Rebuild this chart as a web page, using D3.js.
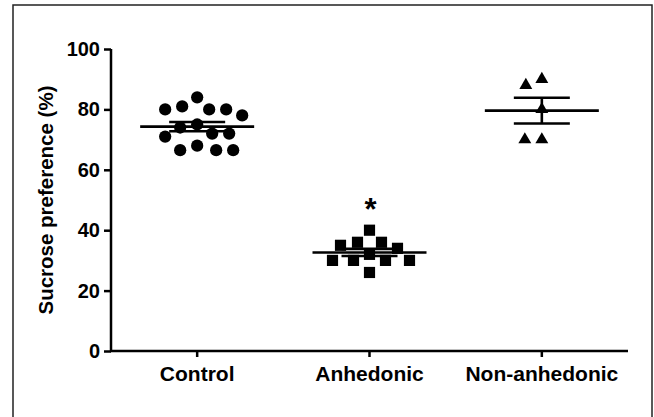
<!DOCTYPE html>
<html>
<head>
<meta charset="utf-8">
<script src="https://cdn.jsdelivr.net/npm/d3@7"></script>
<style>
  html, body { margin: 0; padding: 0; background: #fff; }
  #plot { width: 654px; height: 417px; }
  text { font-family: "Liberation Sans", Arial, sans-serif; font-weight: bold; }
</style>
</head>
<body>
<div id="plot"></div>
<script>
// Sucrose preference scatter (mean ± SEM) per group
const groups = ['Control', 'Anhedonic', 'Non-anhedonic'];
const controlValues = [84, 81, 80, 80, 80, 78, 75, 74, 72, 72, 71, 68, 66.5, 66.5, 66.5];
const anhedonicValues = [40, 36, 36, 35, 34, 32, 30, 30, 30, 30, 26];
const nonAnhedonicValues = [90, 88, 80, 70, 70];
const yTicks = [0, 20, 40, 60, 80, 100];
const yLabel = 'Sucrose preference (%)';
const significant = ['Anhedonic'];

function createD3Visualization() {
  const W = 654, H = 417;
  const margin = { top: 49, right: 26, bottom: 66, left: 111 };

  const svg = d3.select('#plot').append('svg').attr('width', W).attr('height', H);

  // outer frame of the figure
  svg.append('rect').attr('x', 13).attr('y', 5).attr('width', 639).attr('height', 440)
    .attr('fill', 'none').attr('stroke', '#222').attr('stroke-width', 1.5);

  const x = d3.scaleBand().domain(groups).range([margin.left, W - margin.right]).padding(0);
  const y = d3.scaleLinear().domain([0, 100]).range([H - margin.bottom, margin.top]);

  const seriesByGroup = {
    'Control': { values: controlValues, shape: 'circle' },
    'Anhedonic': { values: anhedonicValues, shape: 'square' },
    'Non-anhedonic': { values: nonAnhedonicValues, shape: 'triangle' },
  };

  // simple greedy beeswarm so overlapping points spread sideways
  const minDist = 17;
  function swarm(values) {
    const placed = [];
    values.forEach((v) => {
      const py = y(v);
      let off = 0;
      for (let k = 0; k < 200; k++) {
        const cand = k === 0 ? 0 : (k % 2 ? -Math.ceil(k / 2) : Math.ceil(k / 2));
        const ok = placed.every((p) => Math.hypot(p.dx - cand, p.py - py) >= minDist);
        if (ok) { off = cand; break; }
      }
      placed.push({ v, py, dx: off });
    });
    return placed;
  }

  const g = svg.append('g');

  groups.forEach((name) => {
    const s = seriesByGroup[name];
    const cx = x(name) + x.bandwidth() / 2;
    const pts = swarm(s.values);
    const sym = s.shape === 'circle' ? d3.symbolCircle : s.shape === 'square' ? d3.symbolSquare : d3.symbolTriangle;
    const size = s.shape === 'circle' ? 118 : s.shape === 'square' ? 125 : 72;
    g.selectAll(null).data(pts).enter().append('path')
      .attr('d', d3.symbol().type(sym).size(size))
      .attr('transform', (d) => `translate(${cx + d.dx},${d.py})`)
      .attr('fill', '#000');

    const mean = d3.mean(s.values);
    const sem = d3.deviation(s.values) / Math.sqrt(s.values.length);
    const line = (x1, x2, y1, y2) => g.append('line').attr('x1', x1).attr('x2', x2).attr('y1', y1).attr('y2', y2)
      .attr('stroke', '#000').attr('stroke-width', 2.6);
    line(cx - 57, cx + 57, y(mean), y(mean));
    line(cx - 28, cx + 28, y(mean + sem), y(mean + sem));
    line(cx - 28, cx + 28, y(mean - sem), y(mean - sem));
    line(cx, cx, y(mean + sem), y(mean - sem));

    if (significant.includes(name)) {
      g.append('text').attr('x', cx + 1).attr('y', y(d3.max(s.values)) - 10)
        .attr('text-anchor', 'middle').style('font-size', '31px').text('*');
    }
  });

  // axes
  const yAxis = svg.append('g').attr('transform', `translate(${margin.left},0)`)
    .call(d3.axisLeft(y).tickValues(yTicks).tickSize(7).tickPadding(4).tickFormat(d3.format('d')));
  yAxis.select('.domain').attr('d', `M0,${y(100)}V${y(0)}`);
  const xAxis = svg.append('g').attr('transform', `translate(0,${y(0)})`)
    .call(d3.axisBottom(x).tickSize(6).tickPadding(9).tickSizeOuter(0));
  [yAxis, xAxis].forEach((a) => {
    a.selectAll('path, line').attr('stroke', '#000').attr('stroke-width', 2.5);
    a.selectAll('text').attr('fill', '#000')
      .style('font-family', '"Liberation Sans", Arial, sans-serif').style('font-weight', 'bold');
  });
  yAxis.selectAll('text').style('font-size', '20px');
  xAxis.selectAll('text').style('font-size', '21px');
  xAxis.select('.domain').attr('d', `M${margin.left - 1},0H${W - margin.right}`);

  svg.append('text').attr('transform', `translate(53,${(y(0) + y(100)) / 2}) rotate(-90)`)
    .attr('text-anchor', 'middle').style('font-size', '20.5px').text(yLabel);
}

createD3Visualization();
</script>
</body>
</html>
